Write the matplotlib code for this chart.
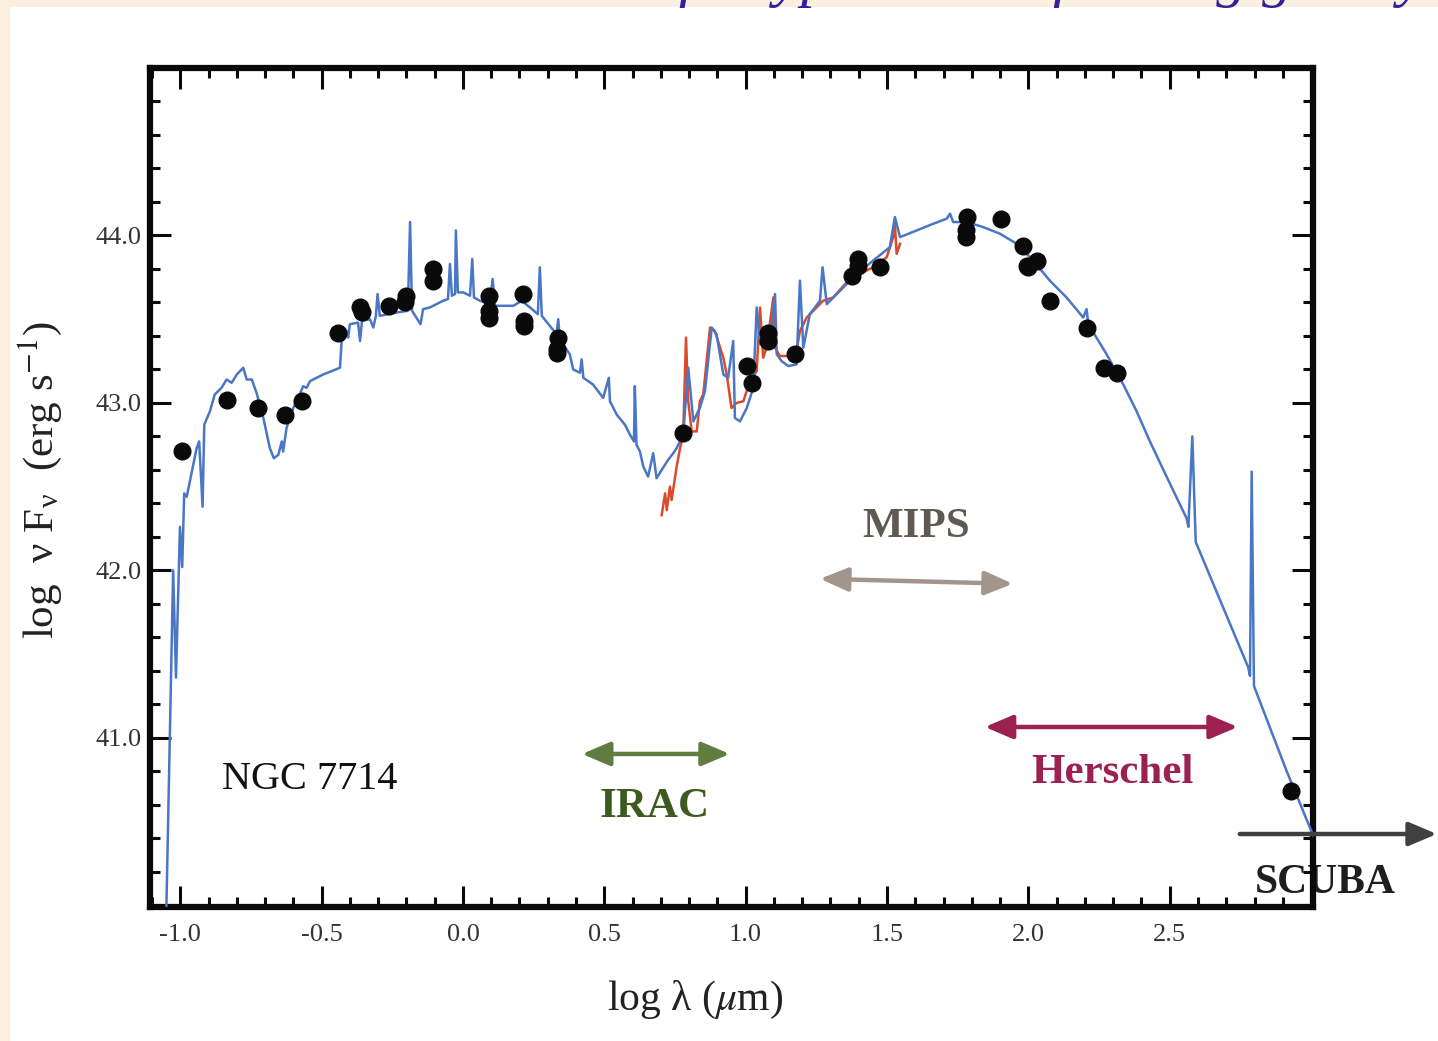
import matplotlib.pyplot as plt
from matplotlib.patches import Rectangle
from matplotlib.ticker import MultipleLocator

plt.rcParams['font.family'] = ['Liberation Serif', 'DejaVu Serif']
plt.rcParams['mathtext.fontset'] = 'stix'
plt.rcParams['axes.unicode_minus'] = False

# model SED (blue), log lambda [um] vs log nuFnu [erg/s]
model_x = [-1.05, -1.025, -1.015, -1.001, -0.993, -0.986, -0.977, -0.960, -0.942, -0.933,
           -0.921, -0.915, -0.895, -0.878, -0.854, -0.836, -0.818, -0.800, -0.777, -0.765,
           -0.747, -0.730, -0.706, -0.683, -0.669, -0.653, -0.641, -0.636, -0.624, -0.600,
           -0.583, -0.565, -0.553, -0.541, -0.494, -0.435, -0.429, -0.411, -0.406, -0.400,
           -0.371, -0.364, -0.357, -0.329, -0.317, -0.308, -0.302, -0.294, -0.235, -0.195,
           -0.187, -0.180, -0.150, -0.141, -0.117, -0.070, -0.053, -0.046, -0.039, -0.028,
           -0.025, -0.018, 0.001, 0.025, 0.033, 0.039, 0.060, 0.096, 0.105, 0.113,
           0.178, 0.208, 0.237, 0.265, 0.272, 0.279, 0.331, 0.337, 0.343, 0.378,
           0.390, 0.414, 0.420, 0.426, 0.460, 0.496, 0.516, 0.520, 0.544, 0.573,
           0.591, 0.605, 0.608, 0.614, 0.626, 0.638, 0.655, 0.673, 0.685, 0.703,
           0.726, 0.744, 0.756, 0.779, 0.797, 0.815, 0.838, 0.856, 0.880, 0.897,
           0.921, 0.938, 0.956, 0.962, 0.980, 1.004, 1.027, 1.039, 1.051, 1.086,
           1.104, 1.110, 1.127, 1.151, 1.180, 1.192, 1.204, 1.227, 1.263, 1.272,
           1.287, 1.334, 1.393, 1.451, 1.510, 1.528, 1.546, 1.605, 1.664, 1.711,
           1.723, 1.734, 1.782, 1.840, 1.900, 1.959, 2.017, 2.076, 2.135, 2.194,
           2.206, 2.212, 2.277, 2.336, 2.383, 2.430, 2.489, 2.560, 2.566, 2.580,
           2.592, 2.778, 2.784, 2.790, 2.798, 2.914, 3.002, 3.032]
model_y = [39.90, 42.00, 41.36, 42.26, 42.02, 42.46, 42.44, 42.58, 42.73, 42.77,
           42.38, 42.87, 42.95, 43.05, 43.09, 43.14, 43.12, 43.17, 43.21, 43.14,
           43.14, 43.06, 42.91, 42.73, 42.67, 42.69, 42.77, 42.71, 42.85, 42.97,
           43.03, 43.10, 43.09, 43.13, 43.17, 43.21, 43.37, 43.43, 43.39, 43.47,
           43.48, 43.37, 43.49, 43.50, 43.45, 43.52, 43.65, 43.52, 43.54, 43.55,
           44.08, 43.55, 43.47, 43.56, 43.57, 43.61, 43.62, 43.83, 43.64, 43.65,
           44.03, 43.66, 43.66, 43.64, 43.86, 43.63, 43.61, 43.59, 43.74, 43.58,
           43.58, 43.61, 43.57, 43.53, 43.81, 43.52, 43.41, 43.50, 43.38, 43.29,
           43.20, 43.18, 43.26, 43.15, 43.11, 43.03, 43.15, 43.01, 42.93, 42.87,
           42.81, 42.77, 43.10, 42.75, 42.71, 42.62, 42.56, 42.70, 42.55, 42.60,
           42.66, 42.70, 42.73, 42.81, 43.21, 42.89, 42.97, 43.07, 43.45, 43.41,
           43.17, 43.15, 43.37, 42.91, 42.89, 42.97, 43.09, 43.57, 43.35, 43.37,
           43.65, 43.29, 43.25, 43.22, 43.23, 43.73, 43.33, 43.53, 43.61, 43.81,
           43.59, 43.67, 43.77, 43.85, 43.93, 44.11, 43.99, 44.03, 44.07, 44.10,
           44.13, 44.08, 44.08, 44.05, 44.01, 43.95, 43.85, 43.73, 43.63, 43.51,
           43.56, 43.47, 43.29, 43.11, 42.95, 42.77, 42.56, 42.31, 42.26, 42.80,
           42.17, 41.42, 41.37, 42.59, 41.31, 40.80, 40.44, 40.32]

# IRS spectrum (red)
irs_x = [0.703, 0.715, 0.721, 0.732, 0.738, 0.756, 0.768, 0.779, 0.789, 0.797,
         0.809, 0.827, 0.838, 0.850, 0.874, 0.891, 0.921, 0.933, 0.950, 0.968,
         0.992, 1.015, 1.039, 1.051, 1.062, 1.074, 1.098, 1.104, 1.121, 1.157,
         1.180, 1.192, 1.216, 1.251, 1.274, 1.310, 1.357, 1.404, 1.451, 1.499,
         1.522, 1.528, 1.534, 1.546]
irs_y = [42.33, 42.46, 42.36, 42.50, 42.42, 42.62, 42.73, 42.81, 43.39, 43.01,
         42.83, 42.83, 43.01, 43.05, 43.45, 43.43, 43.27, 43.17, 42.97, 43.00,
         43.01, 43.13, 43.19, 43.57, 43.27, 43.33, 43.63, 43.33, 43.28, 43.28,
         43.31, 43.43, 43.51, 43.57, 43.61, 43.63, 43.72, 43.77, 43.81, 43.87,
         43.99, 44.07, 43.89, 43.95]

# photometry
phot_x = [-0.993, -0.834, -0.724, -0.630, -0.571, -0.443, -0.364, -0.358, -0.261, -0.202,
          -0.205, -0.105, -0.105, 0.093, 0.093, 0.093, 0.211, 0.216, 0.216, 0.337,
          0.334, 0.334, 0.777, 1.004, 1.021, 1.080, 1.080, 1.174, 1.375, 1.398,
          1.398, 1.475, 1.782, 1.779, 1.779, 1.903, 1.980, 1.996, 2.000, 2.031,
          2.076, 2.206, 2.267, 2.312, 2.928]
phot_y = [42.71, 43.02, 42.97, 42.93, 43.01, 43.42, 43.57, 43.54, 43.58, 43.64,
          43.60, 43.80, 43.73, 43.64, 43.55, 43.51, 43.65, 43.49, 43.46, 43.39,
          43.32, 43.30, 42.82, 43.22, 43.12, 43.42, 43.37, 43.29, 43.76, 43.86,
          43.82, 43.81, 44.11, 44.03, 43.99, 44.10, 43.94, 43.82, 43.81, 43.85,
          43.61, 43.45, 43.21, 43.18, 40.68]

# instrument bands
band_names = ['IRAC', 'MIPS', 'Herschel']
band_start = [0.421, 1.263, 1.846]
band_end = [0.944, 1.945, 2.741]
band_level = [40.904, 41.95, 41.065]
band_level_end = [40.904, 41.92, 41.065]
band_text_x = [0.679, 1.602, 2.296]
band_text_y = [40.59, 42.26, 40.79]
scuba_start, scuba_end, scuba_level = 2.748, 3.445, 40.426

fig = plt.figure(figsize=(14.38, 10.41), dpi=100, facecolor='#fbefe0')
fig.patches.append(Rectangle((10 / 1438, 0), 1, 1 - 7 / 1041, transform=fig.transFigure,
                             facecolor='white', edgecolor='none', zorder=-1))
fig.text(0.991, 1.005, 'SED of a typical star-forming galaxy', ha='right', va='baseline',
         fontsize=44, style='italic', color='#3a1d9c')

ax = fig.add_axes([0.1043, 0.1287, 0.8088, 0.8060])
ax.plot(model_x, model_y, color='#4a76c6', lw=1.8, zorder=3)
ax.plot(irs_x, irs_y, color='#dc4a2c', lw=1.8, zorder=2)
ax.plot(phot_x, phot_y, 'o', color='#0a0a0a', ms=12, zorder=4)

ax.set_xlim(-1.107, 3.007)
ax.set_ylim(39.99, 45.0)
ax.set_xticks([-1.0, -0.5, 0.0, 0.5, 1.0, 1.5, 2.0, 2.5])
ax.set_xticklabels(['-1.0', '-0.5', '0.0', '0.5', '1.0', '1.5', '2.0', '2.5'])
ax.set_yticks([41, 42, 43, 44])
ax.set_yticklabels(['41.0', '42.0', '43.0', '44.0'])
ax.xaxis.set_minor_locator(MultipleLocator(0.1))
ax.yaxis.set_minor_locator(MultipleLocator(0.2))
ax.tick_params(which='both', direction='in', top=True, right=True, width=2.2,
               labelsize=19, colors='#0a0a0a', labelcolor='#333333')
ax.tick_params(which='major', length=15)
ax.tick_params(which='minor', length=7)
ax.tick_params(axis='x', pad=12)
ax.tick_params(axis='y', pad=6)
for s in ax.spines.values():
    s.set_linewidth(4.5)
    s.set_color('#0a0a0a')

ax.set_xlabel('log λ ($\\mu$m)', fontsize=30, va='center', color='#222222')
ax.xaxis.set_label_coords(0.4686, -0.1108)
ax.set_ylabel('log  ν F$_{\\mathregular{ν}}$  (erg s$^{-1}$)', fontsize=31, va='center',
              color='#222222')
ax.yaxis.set_label_coords(-0.0946, 0.509)

ax.text(-0.541, 40.754, 'NGC 7714', fontsize=29, ha='center', va='center', color='#111111')

arrow_colors = ['#5e7d3e', '#a3958b', '#9c2150']
text_colors = ['#3f5a1e', '#5e5a52', '#9c2150']
for i in range(3):
    ax.annotate('', xy=(band_end[i], band_level_end[i]), xytext=(band_start[i], band_level[i]),
                arrowprops=dict(arrowstyle='<|-|>,head_length=0.85,head_width=0.36',
                                mutation_scale=20, color=arrow_colors[i], lw=3.2,
                                shrinkA=0, shrinkB=0))
    ax.text(band_text_x[i], band_text_y[i], band_names[i], fontsize=31, fontweight='bold',
            ha='center', va='center', color=text_colors[i])

ax.annotate('', xy=(scuba_end, scuba_level), xytext=(scuba_start, scuba_level),
            annotation_clip=False,
            arrowprops=dict(arrowstyle='-|>,head_length=0.85,head_width=0.36',
                            mutation_scale=20, color='#404040', lw=3.2,
                            shrinkA=0, shrinkB=0))
ax.text(3.049, 40.133, 'SCUBA', fontsize=30, fontweight='bold', ha='center', va='center',
        color='#1e1e1e', clip_on=False, zorder=2)

fig.savefig('out.png', dpi=100, facecolor=fig.get_facecolor())
